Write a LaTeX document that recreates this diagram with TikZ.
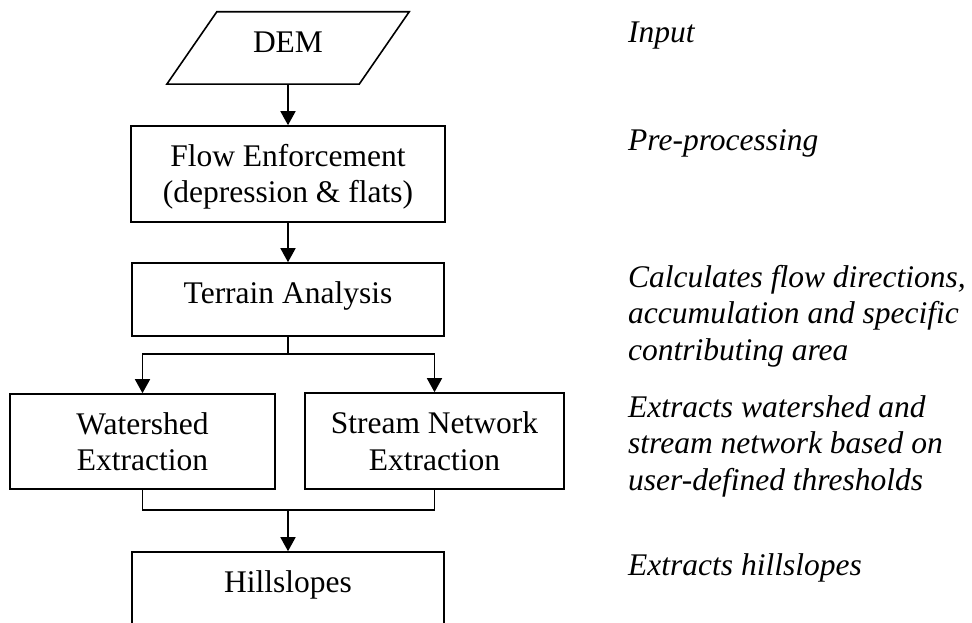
\documentclass[tikz,border=0pt]{standalone}
\usepackage{fontspec}
\setmainfont{Liberation Serif}
\usetikzlibrary{arrows.meta,calc}
\begin{document}
\begin{tikzpicture}[x=1pt,y=-1pt,
  every node/.style={font=\fontsize{31.5}{36.5}\selectfont, inner sep=0pt},
  box/.style={draw, line width=1.6pt, align=center},
  link/.style={line width=1.6pt},
  flow/.style={line width=1.6pt, -{Triangle[length=14pt,width=15pt]}},
  note/.style={anchor=base west, align=left,
               font=\fontsize{31.5}{36.5}\selectfont\itshape}
]
% page frame
\fill[white] (0,0) rectangle (972,623);
\clip (0,0) rectangle (972,623);

% input data (parallelogram drawn around the node)
\node[minimum width=192pt, minimum height=72pt, text depth=11pt] (dem) at (288,48) {DEM};
\draw[link] ($(dem.north west)+(25,0)$) -- ($(dem.north east)+(25,0)$)
  -- ($(dem.south east)+(-25,0)$) -- ($(dem.south west)+(-25,0)$) -- cycle;

% processing steps
\node[box, minimum width=314pt, minimum height=96pt, text depth=1pt] (fe) at (288,174)
  {Flow Enforcement\\(depression \& flats)};
\node[box, minimum width=312pt, minimum height=73pt, text depth=14.5pt] (ta) at (288,299.5)
  {Terrain Analysis};
\node[box, minimum width=265pt, minimum height=95pt] (ws) at (142.5,441.5)
  {Watershed\\Extraction};
\node[box, minimum width=259pt, minimum height=96pt] (sn) at (434.5,441)
  {Stream Network\\Extraction};
\node[box, minimum width=312pt, minimum height=88pt, text depth=28pt] (hs) at (288,596)
  {Hillslopes};

% connectors
\coordinate (split) at (288,354);
\coordinate (join) at (288,510);
\draw[flow] (dem.south) -- (fe.north);
\draw[flow] (fe.south) -- (ta.north);
\draw[link] (ta.south) -- (split);
\draw[flow] (split) -| (ws.north);
\draw[flow] (split) -| (sn.north);
\draw[link] (ws.south) |- (join) -| (sn.south);
\draw[flow] (join) -- (hs.north);

% descriptions of each stage (base = last line)
\node[note] (n1) at (628,43) {Input};
\node[note] (n2) at (628,150) {Pre-processing};
\node[note] (n3) at (628,360) {Calculates flow directions,\\accumulation and specific\\contributing area};
\node[note] (n4) at (628,490) {Extracts watershed and\\stream network based on\\user-defined thresholds};
\node[note] (n5) at (628,575) {Extracts hillslopes};
\end{tikzpicture}
\end{document}
